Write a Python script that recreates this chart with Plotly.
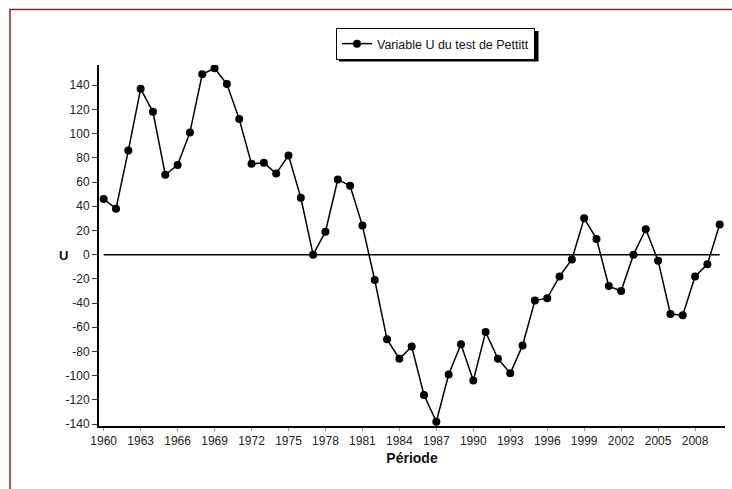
import plotly.graph_objects as go

# Pettitt test: U statistic per year
years = list(range(1960, 2011))
u_values = [46, 38, 86, 137, 118, 66, 74, 101, 149, 154, 141, 112, 75, 76, 67, 82,
            47, 0, 19, 62, 57, 24, -21, -70, -86, -76, -116, -138, -99, -74, -104,
            -64, -86, -98, -75, -38, -36, -18, -4, 30, 13, -26, -30, 0, 21, -5,
            -49, -50, -18, -8, 25]

x_ticks = list(range(1960, 2009, 3))
y_ticks = list(range(-140, 141, 20))
y_tick_text = [str(v) for v in y_ticks]  # plain hyphen for negatives

W, H = 732, 489
ML, MR, MT, MB = 99, 7, 65, 63
PW, PH = W - ML - MR, H - MT - MB


def px_x(px):
    return (px - ML) / PW


def px_y(py):
    return (H - MB - py) / PH


fig = go.Figure()

fig.add_trace(go.Scatter(
    x=years, y=u_values, mode="lines+markers",
    name="Variable U du test de Pettitt",
    line=dict(color="black", width=1.5),
    marker=dict(color="black", size=8),
))

# horizontal reference at U = 0
fig.add_shape(type="line", xref="x", yref="y", x0=1960, x1=2010, y0=0, y1=0,
              line=dict(color="black", width=1.5), layer="below")

# outer frame
fig.add_shape(type="rect", xref="paper", yref="paper",
              x0=px_x(10), x1=px_x(740), y0=px_y(500), y1=px_y(9.5),
              line=dict(color="#8B2A2A", width=1.5), layer="below")

# legend drop shadow
fig.add_shape(type="rect", xref="paper", yref="paper",
              x0=px_x(339), x1=px_x(538.5), y0=px_y(61.5), y1=px_y(31),
              line=dict(width=0), fillcolor="black", layer="above")

fig.add_annotation(text="<b>U</b>", xref="paper", yref="paper",
                   x=px_x(57), y=px_y(255), showarrow=False,
                   font=dict(family="Liberation Sans, Arial", size=13, color="#111"))

fig.update_layout(
    width=W, height=H,
    margin=dict(l=ML, r=MR, t=MT, b=MB),
    paper_bgcolor="white", plot_bgcolor="white",
    font=dict(family="Liberation Sans, Arial", size=12, color="#222"),
    showlegend=True,
    legend=dict(x=px_x(336), y=px_y(28), xanchor="left", yanchor="top",
                bgcolor="white", bordercolor="black", borderwidth=1,
                font=dict(size=12.5, color="#111")),
    xaxis=dict(range=[1959.62, 2010.43], tickvals=x_ticks,
               showgrid=False, zeroline=False,
               showline=True, linecolor="black", linewidth=2,
               ticks="outside", ticklen=3, tickcolor="#999", tickwidth=1,
               title=dict(text="<b>Période</b>", font=dict(size=14, color="#111"), standoff=6)),
    yaxis=dict(range=[-141.6, 156.7], tickvals=y_ticks, ticktext=y_tick_text,
               showgrid=False, zeroline=False,
               showline=True, linecolor="black", linewidth=2,
               ticks="outside", ticklen=5, tickcolor="#333", tickwidth=1),
)

fig.write_html("out.html")
